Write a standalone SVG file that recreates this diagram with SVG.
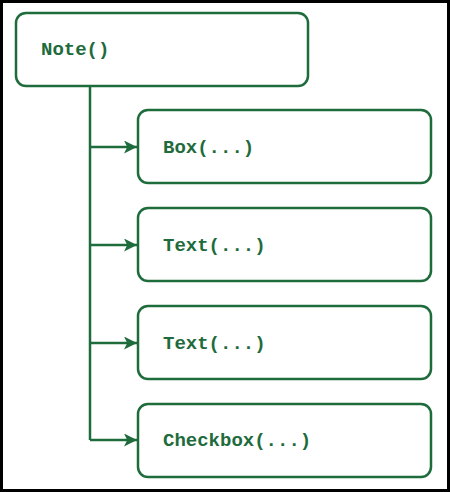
<svg xmlns="http://www.w3.org/2000/svg" width="450" height="492" viewBox="0 0 450 492">
<style>
.node{fill:#fff;stroke:#1e6b3c;stroke-width:2.5}
.lbl{font-family:"Liberation Mono","Courier New",monospace;font-weight:bold;font-size:19px;fill:#1e6b3c}
.conn{fill:none;stroke:#1e6b3c;stroke-width:2.5}
</style>
<defs>
<marker id="ah" viewBox="0 0 12 12" refX="12" refY="6" markerWidth="13" markerHeight="13" markerUnits="userSpaceOnUse" orient="auto">
<path d="M0,0 L12,6 L0,12 L3,6 Z" fill="#1e6b3c"/>
</marker>
</defs>
<rect x="1.5" y="1.5" width="447" height="489" fill="#fff" stroke="#000" stroke-width="3"/>
<g id="connectors">
<path class="conn" d="M90,86 V440"/>
<path class="conn" d="M90,147 H137" marker-end="url(#ah)"/>
<path class="conn" d="M90,245 H137" marker-end="url(#ah)"/>
<path class="conn" d="M90,343 H137" marker-end="url(#ah)"/>
<path class="conn" d="M90,440 H137" marker-end="url(#ah)"/>
</g>
<g id="note">
<rect class="node" x="16" y="13" width="292" height="73" rx="10"/>
<text class="lbl" x="41" y="55">Note()</text>
</g>
<g id="box">
<rect class="node" x="138" y="110" width="293" height="73" rx="10"/>
<text class="lbl" x="163" y="153">Box(...)</text>
</g>
<g id="text1">
<rect class="node" x="138" y="208" width="293" height="73" rx="10"/>
<text class="lbl" x="163" y="251">Text(...)</text>
</g>
<g id="text2">
<rect class="node" x="138" y="306" width="293" height="73" rx="10"/>
<text class="lbl" x="163" y="349">Text(...)</text>
</g>
<g id="checkbox">
<rect class="node" x="138" y="404" width="293" height="73" rx="10"/>
<text class="lbl" x="163" y="446">Checkbox(...)</text>
</g>
</svg>
